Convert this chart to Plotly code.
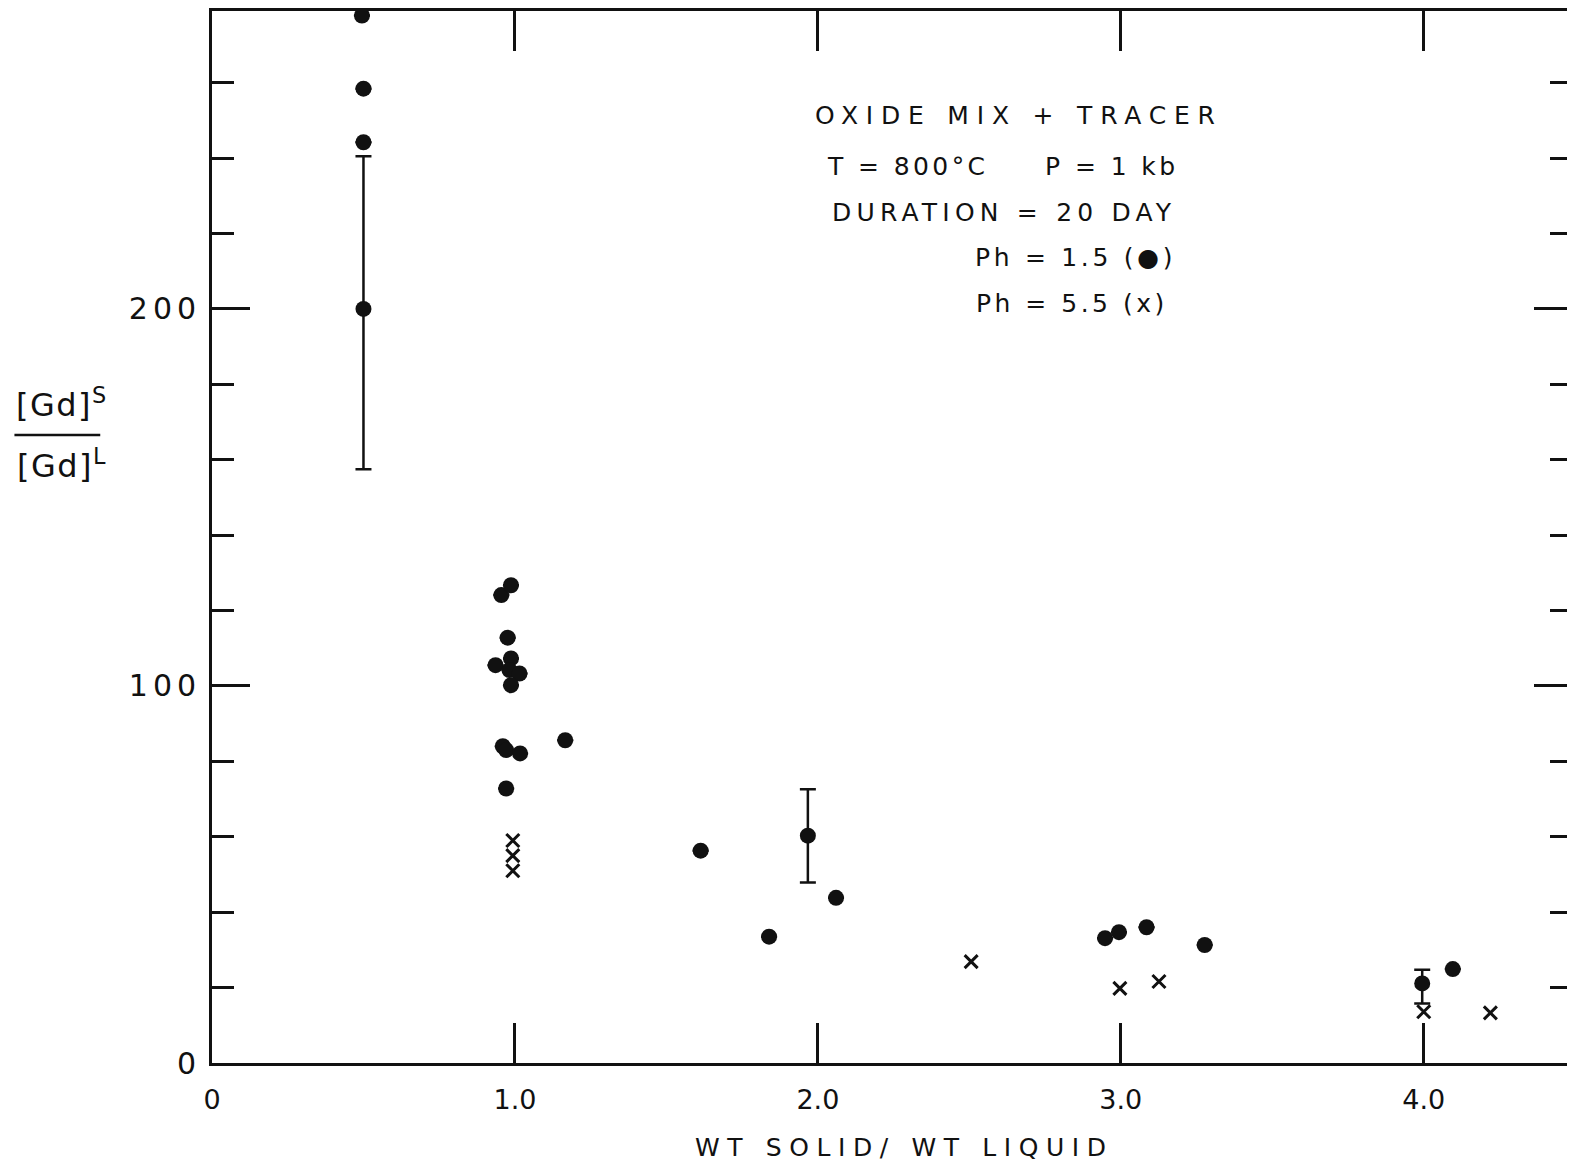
import plotly.graph_objects as go

# ---------------- data ----------------
# pH = 1.5 (filled dots)
dots_x = [0.495, 0.50, 0.50, 0.50,
          0.955, 0.987, 0.976, 0.936, 0.987, 0.982, 1.015, 0.987,
          0.960, 0.971, 1.017, 0.971, 1.166,
          1.613, 1.967, 2.060, 1.839,
          2.948, 2.994, 3.085, 3.277,
          3.995, 4.096]
dots_y = [277.8, 258.4, 244.2, 200.0,
          124.1, 126.7, 112.8, 105.5, 107.3, 104.2, 103.3, 100.2,
          84.0, 83.0, 82.1, 72.8, 85.6,
          56.3, 60.3, 43.8, 33.5,
          33.1, 34.7, 36.0, 31.3,
          21.1, 24.9]
dots_err_plus = [None, None, None, 40.5,
                 None, None, None, None, None, None, None, None,
                 None, None, None, None, None,
                 None, 12.3, None, None,
                 None, None, None, None,
                 3.6, None]
dots_err_minus = [None, None, None, 42.5,
                  None, None, None, None, None, None, None, None,
                  None, None, None, None, None,
                  None, 12.4, None, None,
                  None, None, None, None,
                  5.3, None]

# pH = 5.5 (crosses)
cross_x = [0.993, 0.993, 0.993, 2.506, 2.997, 3.126, 4.000, 4.220]
cross_y = [59.0, 55.0, 51.0, 26.9, 19.8, 21.6, 13.6, 13.3]

# axis ticks
x_tickvals = [0, 1, 2, 3, 4]
x_ticktext = ["0", "1.0", "2.0", "3.0", "4.0"]
y_tickvals = [0, 100, 200]
y_ticktext = ["0", "100", "200"]

# legend / condition text
info_lines = ["OXIDE MIX + TRACER",
              "T = 800°C\u00a0\u00a0\u00a0\u00a0\u00a0P = 1 kb",
              "DURATION = 20 DAY",
              "Ph = 1.5 (●)",
              "Ph = 5.5 (x)"]
x_title = "WT SOLID/ WT LIQUID"
y_num = "[Gd]<sup>S</sup>"
y_den = "[Gd]<sup>L</sup>"

# ---------------- layout geometry ----------------
# the page body has an 8px margin, so the figure is drawn 8px in from
# the top-left corner of the window; compensate for it here.
BODY = 8
WIN_W, WIN_H = 1575, 1169
W, H = WIN_W - BODY, WIN_H - 2 * BODY
PLOT_L, PLOT_T, PLOT_B = 212, 11, 1063          # window pixels
ML, MR, MT = PLOT_L - BODY, 0, PLOT_T - BODY
MB = H + BODY - PLOT_B
PW, PH = W - ML - MR, H - MT - MB
XPX = 303.6                      # pixels per x unit
X_RANGE = [0, PW / XPX]
Y_RANGE = [0, 279]
INK = "#111111"
FONT = "DejaVu Sans"


def px2paper(px, py):
    """window pixel -> paper coordinate"""
    return (px - PLOT_L) / PW, (PLOT_B - py) / PH


def spaced(s, ls):
    return f'<span style="letter-spacing:{ls}px">{s}</span>'


fig = go.Figure()

fig.add_trace(go.Scatter(
    x=dots_x, y=dots_y, mode="markers",
    marker=dict(symbol="circle", size=16, color=INK),
    error_y=dict(type="data", symmetric=False,
                 array=dots_err_plus, arrayminus=dots_err_minus,
                 color=INK, thickness=2.5, width=8),
    showlegend=False, cliponaxis=False,
))

fig.add_trace(go.Scatter(
    x=cross_x, y=cross_y, mode="markers",
    marker=dict(symbol="x-thin", size=13, color=INK,
                line=dict(color=INK, width=3)),
    showlegend=False, cliponaxis=False,
))

# condition text block
info_pos = [(1021, 116, 7.8), (1004, 166, 3.4), (1006, 212, 5.2),
            (1077, 258, 3.7), (1074, 303, 3.5)]
for line, (cx, cy, ls) in zip(info_lines, info_pos):
    xp, yp = px2paper(cx, cy)
    fig.add_annotation(x=xp, y=yp, xref="paper", yref="paper",
                       text=spaced(line, ls), showarrow=False,
                       xanchor="center", yanchor="middle",
                       font=dict(family=FONT, size=25, color=INK))

# x-axis title
xp, yp = px2paper(906, 1147)
fig.add_annotation(x=xp, y=yp, xref="paper", yref="paper",
                   text=spaced(x_title, 7.6), showarrow=False,
                   xanchor="center", yanchor="middle",
                   font=dict(family=FONT, size=25, color=INK))

# y-axis "title" as a fraction
xp, yp = px2paper(62, 403)
fig.add_annotation(x=xp, y=yp, xref="paper", yref="paper",
                   text=spaced(y_num, 1.5), showarrow=False,
                   xanchor="center", yanchor="middle",
                   font=dict(family=FONT, size=32, color=INK))
xp, yp = px2paper(62, 464)
fig.add_annotation(x=xp, y=yp, xref="paper", yref="paper",
                   text=spaced(y_den, 1.5), showarrow=False,
                   xanchor="center", yanchor="middle",
                   font=dict(family=FONT, size=32, color=INK))
x0p, y0p = px2paper(14, 435)
x1p, _ = px2paper(100, 435)
fig.add_shape(type="line", xref="paper", yref="paper",
              x0=x0p, x1=x1p, y0=y0p, y1=y0p,
              line=dict(color=INK, width=2.4))

axis_common = dict(
    showline=True, linecolor=INK, linewidth=2.8, mirror="ticks",
    ticks="inside", tickcolor=INK, tickwidth=2.5,
    showgrid=False, zeroline=False,
)

fig.update_xaxes(
    range=X_RANGE, tickmode="array", tickvals=x_tickvals,
    ticktext=x_ticktext, ticklen=40, ticklabelstandoff=11,
    tickfont=dict(family=FONT, size=27, color=INK),
    **axis_common,
)

fig.update_yaxes(
    range=Y_RANGE, tickmode="array", tickvals=y_tickvals,
    ticktext=[spaced(t, 5) for t in y_ticktext], ticklen=38,
    ticklabelstandoff=2,
    tickfont=dict(family=FONT, size=30, color=INK),
    minor=dict(dtick=20, tick0=0, ticks="inside", ticklen=22,
               tickwidth=2.5, tickcolor=INK, showgrid=False),
    **axis_common,
)

fig.update_layout(
    width=W, height=H, autosize=False,
    margin=dict(l=ML, r=MR, t=MT, b=MB, pad=0),
    paper_bgcolor="white", plot_bgcolor="white",
    font=dict(family=FONT, color=INK),
)

fig.write_html("out.html")
